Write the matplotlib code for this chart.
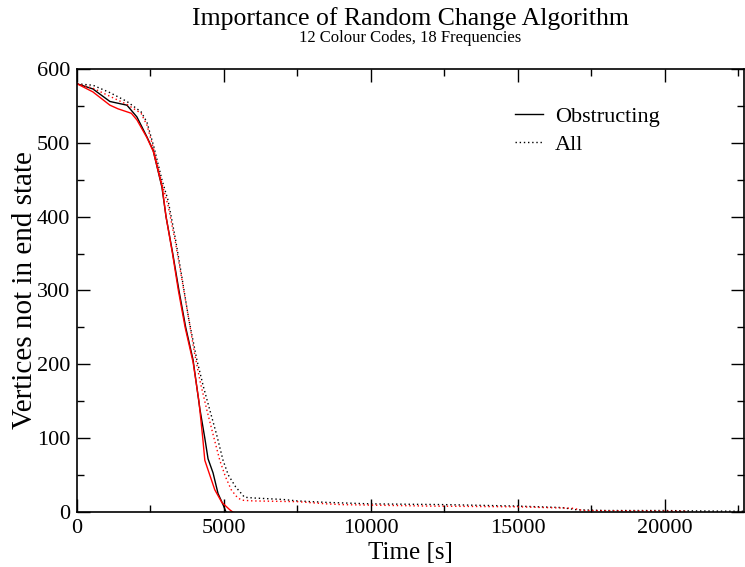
import matplotlib
matplotlib.use("Agg")
import matplotlib.pyplot as plt
from matplotlib.ticker import MultipleLocator

plt.rcParams['font.family'] = ['Liberation Serif', 'DejaVu Serif']

# Obstructing (black solid)
obs_black_t = [0, 540, 1120, 1700, 2040, 2380, 2590, 2890, 3030, 3250, 3470, 3700, 3950, 4180, 4350, 4460, 4630, 4800, 4970, 5070]
obs_black_v = [580, 573, 556, 551, 535, 508, 490, 440, 400, 352, 300, 250, 206, 140, 100, 72, 53, 25, 10, 0]

# Obstructing (red solid)
obs_red_t = [0, 540, 1120, 1400, 1850, 2040, 2380, 2600, 2900, 3030, 3250, 3450, 3680, 3950, 4150, 4280, 4350, 4460, 4690, 4930, 5200, 5300]
obs_red_v = [580, 569, 551, 546, 540, 531, 507, 488, 440, 400, 350, 300, 250, 203, 150, 100, 70, 57, 30, 13, 3, 0]

# All (black dotted)
all_black_t = [0, 544, 1120, 1700, 2180, 2380, 2620, 2890, 3100, 3350, 3570, 3800, 4080, 4300, 4520, 4750, 4970, 5150, 5400, 5700, 6000,
               7000, 7500, 8500, 10000, 12500, 15000, 16500, 17000, 18000, 20000, 21000, 22700]
all_black_v = [580, 578, 568, 556, 542, 528, 494, 450, 422, 370, 318, 262, 206, 170, 138, 105, 70, 50, 34, 20, 19,
               17, 15, 13, 11, 10, 8, 6, 3, 2, 2, 1.5, 1]

# All (red dotted)
all_red_t = [0, 544, 1120, 1700, 2180, 2380, 2620, 2890, 3100, 3350, 3570, 3800, 4000, 4200, 4420, 4650, 4860, 5050, 5250, 5450, 5600, 6000,
             7500, 8500, 9000, 12000, 15000, 16900, 17200, 19000, 20800]
all_red_v = [580, 574, 563, 552, 540, 524, 490, 445, 415, 365, 315, 262, 215, 175, 138, 102, 70, 48, 30, 20, 16, 15,
             14, 11, 10, 8, 7, 5, 2, 1.5, 1]

title = "Importance of Random Change Algorithm"
subtitle = "12 Colour Codes, 18 Frequencies"

fig = plt.figure(figsize=(7.45, 5.67), dpi=100)
ax = fig.add_axes([77/745, 55/567, 667/745, 443/567])

ax.plot(obs_black_t, obs_black_v, color='black', lw=1.0, label='Obstructing')
ax.plot(all_black_t, all_black_v, color='black', lw=1.0, linestyle=(0, (1, 2)), label='All')
ax.plot(obs_red_t, obs_red_v, color='red', lw=1.0)
ax.plot(all_red_t, all_red_v, color='red', lw=1.0, linestyle=(0, (1, 2)))

ax.set_xlim(0, 22700)
ax.set_ylim(0, 600)
ax.xaxis.set_major_locator(MultipleLocator(5000))
ax.xaxis.set_minor_locator(MultipleLocator(2500))
ax.yaxis.set_major_locator(MultipleLocator(100))
ax.yaxis.set_minor_locator(MultipleLocator(50))
ax.tick_params(which='both', direction='in', top=True, right=True, labelsize=16, width=1.0)
ax.tick_params(which='major', length=9.5, pad=5)
ax.tick_params(which='minor', length=5)
for s in ax.spines.values():
    s.set_linewidth(1.2)

ax.set_xlabel("Time [s]", fontsize=18, labelpad=3)
ax.set_ylabel("Vertices not in end state", fontsize=21, labelpad=-1)

fig.text(0.5 * (77 + 744) / 745, 1 - 25/567, title, ha='center', va='baseline', fontsize=18.5)
fig.text(0.5 * (77 + 744) / 745, 1 - 42/567, subtitle, ha='center', va='baseline', fontsize=12)

leg = ax.legend(loc='upper left', bbox_to_anchor=((515 - 77) / 667, (512 - 106) / 443),
                frameon=False, fontsize=16, handlelength=1.25, handletextpad=0.55,
                borderpad=0, borderaxespad=0, labelspacing=0.35)

fig.savefig("out.png", dpi=100)
